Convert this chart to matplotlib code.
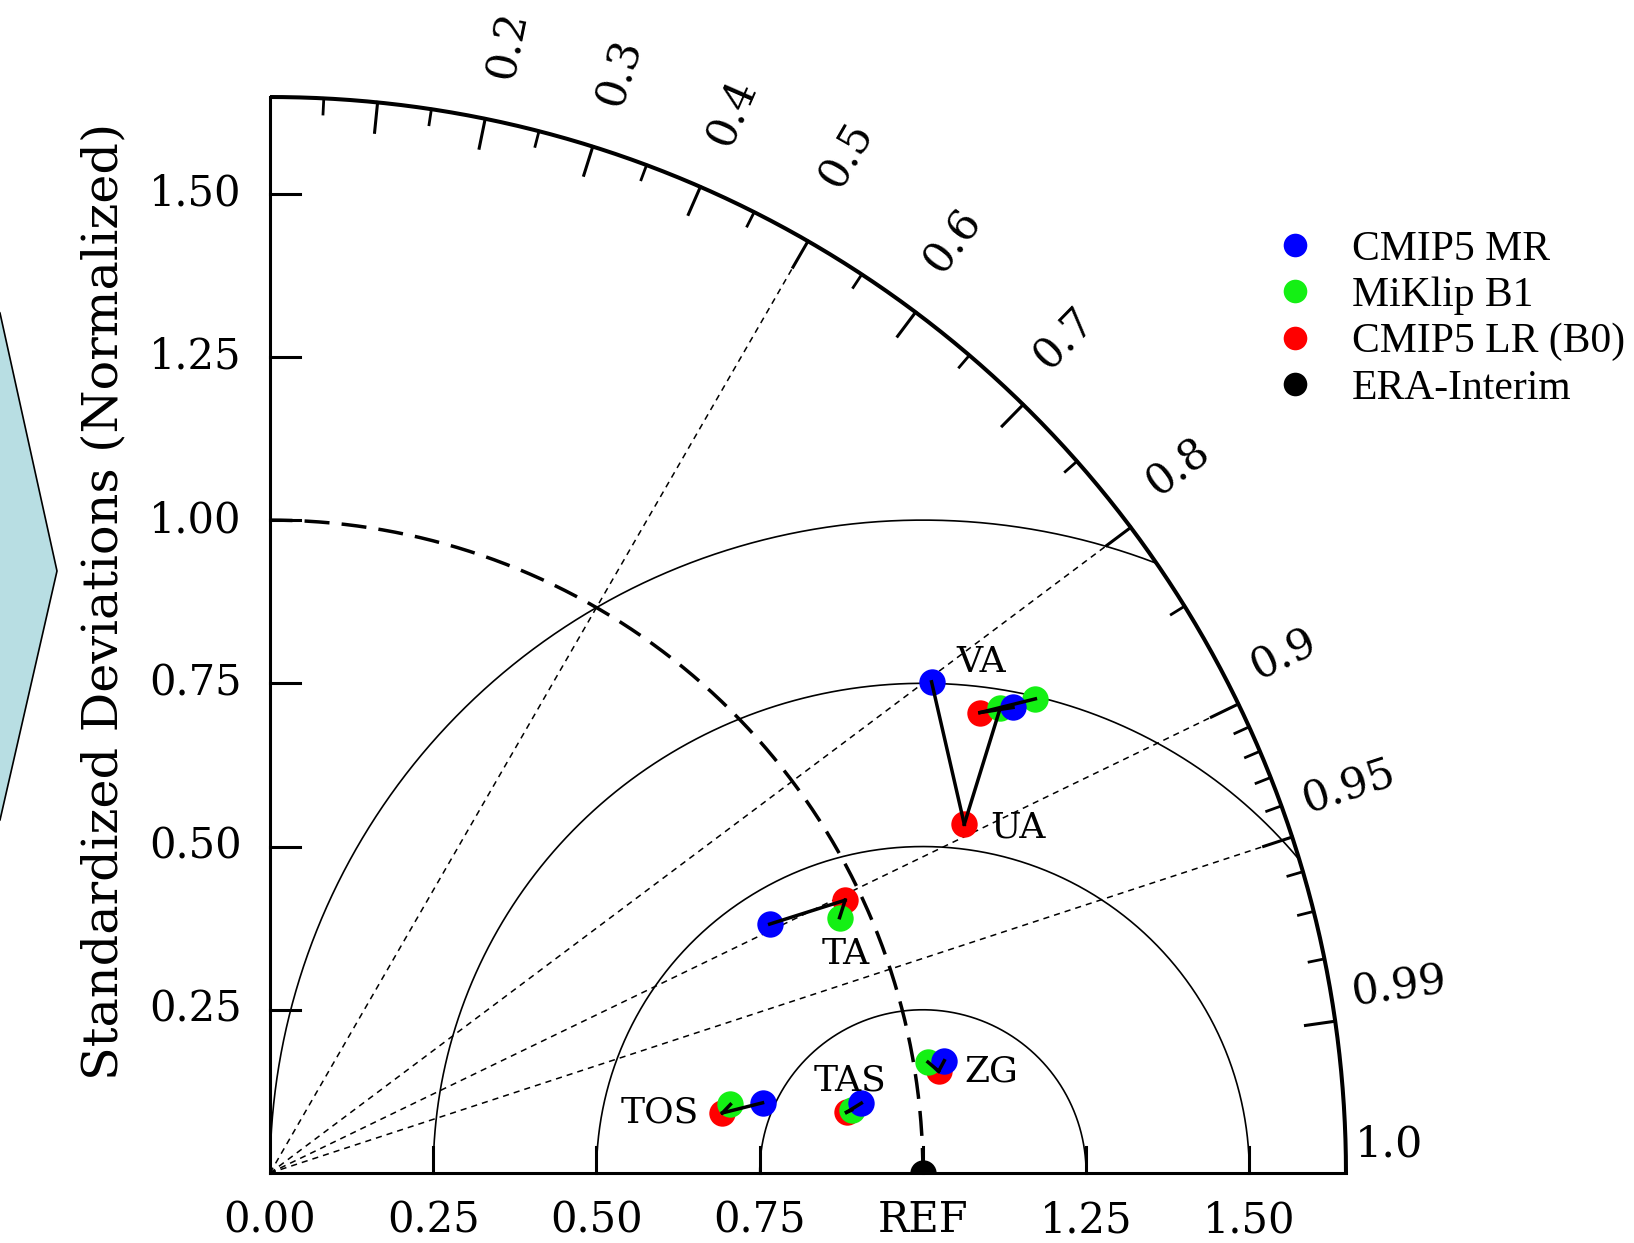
import numpy as np
import matplotlib
matplotlib.use("Agg")
import matplotlib.pyplot as plt
from matplotlib.patches import Polygon, Rectangle
from matplotlib.lines import Line2D

# ---------------- data (normalized std, correlation) ----------------
variables = ["TOS", "TAS", "ZG", "TA", "UA", "VA"]
series_names = ["CMIP5 MR", "MiKlip B1", "CMIP5 LR (B0)"]
std_mr = [0.762, 0.912, 1.047, 0.855, 1.262, 1.343]
cor_mr = [0.9900, 0.9931, 0.9864, 0.8951, 0.8029, 0.8474]
std_b1 = [0.713, 0.896, 1.022, 0.956, 1.326, 1.379]
cor_b1 = [0.9891, 0.9942, 0.9861, 0.9125, 0.8435, 0.8501]
std_lr = [0.699, 0.888, 1.036, 0.975, 1.190, 1.296]
cor_lr = [0.9913, 0.9945, 0.9886, 0.9035, 0.8936, 0.8390]
ref_name = "ERA-Interim"
ref_std = 1.0
ref_cor = 1.0

std_ticks = [0.0, 0.25, 0.5, 0.75, 1.0, 1.25, 1.5]
x_tick_labels = ["0.00", "0.25", "0.50", "0.75", "REF", "1.25", "1.50"]
y_ticks = [0.25, 0.5, 0.75, 1.0, 1.25, 1.5]
y_tick_labels = ["0.25", "0.50", "0.75", "1.00", "1.25", "1.50"]
cor_major = [0.1, 0.2, 0.3, 0.4, 0.5, 0.6, 0.7, 0.8, 0.9, 0.95, 0.99]
cor_minor = [0.05, 0.15, 0.25, 0.35, 0.45, 0.55, 0.65, 0.75, 0.85,
             0.91, 0.92, 0.93, 0.94, 0.96, 0.97, 0.98]
cor_label_vals = [0.2, 0.3, 0.4, 0.5, 0.6, 0.7, 0.8, 0.9, 0.95, 0.99, 1.0]
cor_labels = ["0.2", "0.3", "0.4", "0.5", "0.6", "0.7", "0.8", "0.9", "0.95", "0.99", "1.0"]
cor_lines = [0.5, 0.8, 0.9, 0.95]
rms_circles = [0.25, 0.5, 0.75, 1.0]
std_max = 1.648
y_label = "Standardized Deviations (Normalized)"

# ---------------- layout / style ----------------
W, H = 1634, 1243
ox, oy, unit = 270.0, 1173.0, 652.9
label_pos = {"TOS": (0.597, 0.092), "TAS": (0.888, 0.142), "ZG": (1.105, 0.155),
             "TA": (0.882, 0.336), "UA": (1.145, 0.529), "VA": (1.089, 0.782)}
colors = {"CMIP5 MR": "#0000ff", "MiKlip B1": "#14f014", "CMIP5 LR (B0)": "#ff0000"}
MS = 19
NFONT = "DejaVu Serif"
# radial start / perpendicular offset of correlation labels vs. angle (deg)
lab_ang = [0.0, 8.1, 18.2, 25.8, 36.9, 45.6, 53.1, 60.0, 66.4, 78.5]
lab_r = [1.662, 1.678, 1.680, 1.690, 1.708, 1.712, 1.716, 1.740, 1.718, 1.713]
lab_off = [0.043, 0.038, 0.045, 0.038, 0.030, 0.026, 0.020, 0.015, 0.002, -0.012]

fig = plt.figure(figsize=(W / 100, H / 100), dpi=100)
ax = fig.add_axes([0, 0, 1, 1])
ax.set_xlim(-ox / unit, (W - ox) / unit)
ax.set_ylim((oy - H) / unit, oy / unit)
ax.axis("off")

# left decorative chevron
arrow = Polygon([(-10 / W, 1 - 300 / H), (0 / W, 1 - 313 / H), (57 / W, 1 - 571 / H),
                 (0 / W, 1 - 820 / H), (-10 / W, 1 - 830 / H)], closed=True,
                transform=fig.transFigure, facecolor="#b8dee3", edgecolor="black",
                linewidth=1.2)
fig.patches.append(arrow)

# outer arc and axes
th = np.linspace(0, np.pi / 2, 400)
ax.plot(std_max * np.cos(th), std_max * np.sin(th), color="black", lw=2.9, zorder=7,
        solid_capstyle="butt")
ax.plot([0, 0], [0, std_max], color="black", lw=2.2, zorder=7)
ax.plot([0, std_max], [0, 0], color="black", lw=2.2, zorder=7)

# axis ticks
for t in std_ticks[1:]:
    ax.plot([t, t], [0, 0.04], color="black", lw=2.2, zorder=7)
for t in y_ticks:
    ax.plot([0, 0.046], [t, t], color="black", lw=2.2, zorder=7)
for t, lab in zip(std_ticks, x_tick_labels):
    ax.text(t, -0.072, lab, ha="center", va="center", fontsize=30, family=NFONT)
for t, lab in zip(y_ticks, y_tick_labels):
    ax.text(-0.043, t, lab, ha="right", va="center", fontsize=30, family=NFONT)
ax.text(-0.254, 0.876, y_label, rotation=90, ha="center", va="center",
        fontsize=35.5, family=NFONT)

# correlation ticks on outer arc
for c in cor_major:
    a = np.arccos(c)
    ax.plot([std_max * np.cos(a), (std_max - 0.046) * np.cos(a)],
            [std_max * np.sin(a), (std_max - 0.046) * np.sin(a)],
            color="black", lw=2.2, zorder=7)
for c in cor_minor:
    a = np.arccos(c)
    ax.plot([std_max * np.cos(a), (std_max - 0.024) * np.cos(a)],
            [std_max * np.sin(a), (std_max - 0.024) * np.sin(a)],
            color="black", lw=2.0, zorder=7)
for c, lab in zip(cor_label_vals, cor_labels):
    a = np.arccos(c)
    d = np.degrees(a)
    r = np.interp(d, lab_ang, lab_r)
    off = np.interp(d, lab_ang, lab_off)
    ax.text(r * np.cos(a) - off * np.sin(a), r * np.sin(a) + off * np.cos(a), lab,
            rotation=d, rotation_mode="anchor", ha="left", va="center",
            fontsize=31, family=NFONT)

# dotted correlation lines
for c in cor_lines:
    a = np.arccos(c)
    ax.plot([0, std_max * np.cos(a)], [0, std_max * np.sin(a)], color="black",
            lw=1.1, ls=(0, (4, 3.3)), zorder=1)

# centered RMS circles
phi = np.linspace(0, np.pi, 800)
for R in rms_circles:
    xs = ref_std + R * np.cos(phi)
    ys = R * np.sin(phi)
    mask = xs ** 2 + ys ** 2 <= std_max ** 2
    xs = np.where(mask, xs, np.nan)
    ys = np.where(mask, ys, np.nan)
    ax.plot(xs, ys, color="black", lw=1.2, zorder=1)

# reference std arc
ax.plot(ref_std * np.cos(th), ref_std * np.sin(th), color="black", lw=2.5,
        ls=(0, (7.2, 3.5)), zorder=2)

# data
def xy(s, c):
    s = np.asarray(s); c = np.asarray(c)
    return s * c, s * np.sin(np.arccos(c))

x_mr, y_mr = xy(std_mr, cor_mr)
x_b1, y_b1 = xy(std_b1, cor_b1)
x_lr, y_lr = xy(std_lr, cor_lr)

ax.plot(x_lr, y_lr, "o", ms=MS, color=colors["CMIP5 LR (B0)"], mew=0, zorder=3)
ax.plot(x_b1, y_b1, "o", ms=MS, color=colors["MiKlip B1"], mew=0, zorder=4)
ax.plot(x_mr, y_mr, "o", ms=MS, color=colors["CMIP5 MR"], mew=0, zorder=5)
for i in range(len(variables)):
    ax.plot([x_lr[i], x_mr[i]], [y_lr[i], y_mr[i]], color="black", lw=2.5, zorder=6)
    ax.plot([x_lr[i], x_b1[i]], [y_lr[i], y_b1[i]], color="black", lw=2.5, zorder=6)

rx, ry = xy([ref_std], [ref_cor])
era, = ax.plot(rx, ry, "o", ms=MS, color="black", mew=0, zorder=5)
era.set_clip_path(Rectangle((-1, 0), 4, 3, transform=ax.transData))

for v in variables:
    px, py = label_pos[v]
    ax.text(px, py, v, ha="center", va="center", fontsize=26, family=NFONT, zorder=8)

# legend
handles = [Line2D([], [], ls="none", marker="o", ms=17, mew=0, color=colors[n]) for n in series_names]
handles.append(Line2D([], [], ls="none", marker="o", ms=17, mew=0, color="black"))
leg = ax.legend(handles, series_names + [ref_name], loc="upper left",
                bbox_to_anchor=(1274 / W, 1 - 230 / H), bbox_transform=fig.transFigure,
                frameon=False, prop={"family": "Liberation Serif", "size": 30},
                handlelength=1.0, handletextpad=0.87, labelspacing=0.19,
                borderpad=0, borderaxespad=0)

fig.savefig("out.png", dpi=100)
